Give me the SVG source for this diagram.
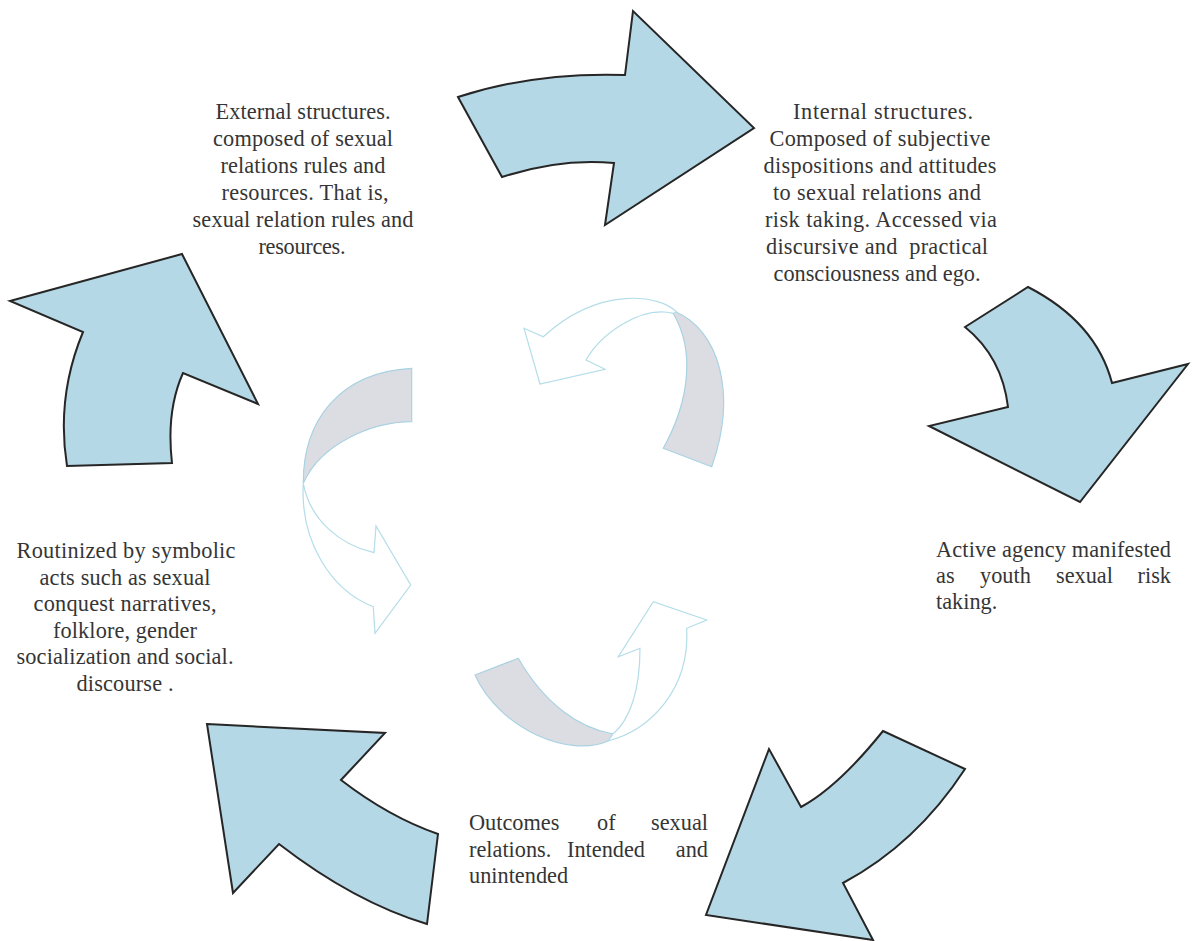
<svg xmlns="http://www.w3.org/2000/svg" width="1192" height="941" viewBox="0 0 1192 941">
<style>
.big{fill:#b5d8e6;stroke:#262626;stroke-width:2;stroke-linejoin:miter}
.band{fill:#dcdde3;stroke:#a9d2e2;stroke-width:1.2}
.ghost{fill:#ffffff;stroke:#b3dde8;stroke-width:1.2}
text{font-family:"Liberation Serif","Times New Roman",serif;font-size:22.3px;fill:#353535}
.c{text-anchor:middle}
</style>
<rect width="1192" height="941" fill="#ffffff"/>
<g id="connectors">
<path class="big" d="M458,97 Q535,72 625,75 L633,11 L754,128 L605,225 L614,163 Q560,158 502,177 Z"/>
<path class="big" d="M965,327 L1028,287 Q1096,322 1112,383 L1188,364 L1080,502 L929,426 L1008,407 Q1002,357 965,327 Z"/>
<path class="big" d="M883,731 L965,769 Q916,844 843,883 L873,940 L706,915 L769,749 L801,807 Q838,787 883,731 Z"/>
<path class="big" d="M207,724 L385,733 L341,780 Q389,817 438,834 L427,924 Q354,902 279,844 L233,893 Z"/>
<path class="big" d="M182,254 L258,404 L183,373 Q166,411 172,463 L67,466 Q56,397 83,332 L10,301 Z"/>
</g>
<g id="center-cycle">
<path class="band" d="M411.7,368.3 L411.7,421.7 C370,422 320,445 303.3,483.3 C303,420 340,372 411.7,368.3 Z"/>
<path class="ghost" d="M303.3,483.3 C300,540 330,590 373.3,606.7 L375,633.3 L410.7,585 L376,526 L374,552.7 C340,545 310,520 303.3,483.3 Z"/>
<path class="band" d="M676,312 C718,330 738,392 711.7,466.7 L663.3,448.3 C690,400 695,350 673,313 Z"/>
<path class="ghost" d="M676.7,312 C660,295 600,285 543.3,336.7 L524,328.3 L540,384 L605,369.3 L586,360 C600,335 640,305 673.3,313.3 Z"/>
<path class="band" d="M518.3,658.3 C545,705 580,728 613,734 L608,741 C570,758 500,730 475,675 Z"/>
<path class="ghost" d="M608,741 C650,730 690,690 686.7,628.3 L706.7,620 L653.3,601.7 L618.3,656.7 L640,648.3 C640,690 630,720 613,734 Z"/>
</g>
<g id="external-structures">
<text class="c" x="303" y="119" textLength="175" lengthAdjust="spacing">External structures.</text>
<text class="c" x="303" y="146" textLength="180" lengthAdjust="spacing">composed of sexual</text>
<text class="c" x="303" y="173" textLength="165" lengthAdjust="spacing">relations rules and</text>
<text class="c" x="305" y="200" textLength="167" lengthAdjust="spacing">resources. That is,</text>
<text class="c" x="303" y="227" textLength="221" lengthAdjust="spacing">sexual relation rules and</text>
<text class="c" x="302" y="254" textLength="87" lengthAdjust="spacing">resources.</text>
</g>
<g id="internal-structures">
<text class="c" x="883" y="119" textLength="180" lengthAdjust="spacing">Internal structures.</text>
<text class="c" x="880" y="146" textLength="221" lengthAdjust="spacing">Composed of subjective</text>
<text class="c" x="880" y="173" textLength="233" lengthAdjust="spacing">dispositions and attitudes</text>
<text class="c" x="877" y="200" textLength="208" lengthAdjust="spacing">to sexual relations and</text>
<text class="c" x="881" y="227" textLength="232" lengthAdjust="spacing">risk taking. Accessed via</text>
<text class="c" x="877" y="254" textLength="222" lengthAdjust="spacing" xml:space="preserve">discursive and  practical</text>
<text class="c" x="877" y="281" textLength="207" lengthAdjust="spacing">consciousness and ego.</text>
</g>
<g id="active-agency">
<text x="936" y="557" textLength="235" lengthAdjust="spacing">Active agency manifested</text>
<text x="936" y="583">as</text>
<text x="980" y="583">youth</text>
<text x="1056" y="583">sexual</text>
<text x="1171" y="583" text-anchor="end">risk</text>
<text x="936" y="609">taking.</text>
</g>
<g id="outcomes">
<text x="469" y="830">Outcomes</text>
<text x="597" y="830">of</text>
<text x="708" y="830" text-anchor="end">sexual</text>
<text x="469" y="857">relations.</text>
<text x="567" y="857">Intended</text>
<text x="708" y="857" text-anchor="end">and</text>
<text x="469" y="883">unintended</text>
</g>
<g id="routinized">
<text class="c" x="126" y="558" textLength="219" lengthAdjust="spacing">Routinized by symbolic</text>
<text class="c" x="125" y="585" textLength="171" lengthAdjust="spacing">acts such as sexual</text>
<text class="c" x="125" y="611" textLength="183" lengthAdjust="spacing">conquest narratives,</text>
<text class="c" x="125" y="638" textLength="144" lengthAdjust="spacing">folklore, gender</text>
<text class="c" x="125" y="664" textLength="217" lengthAdjust="spacing">socialization and social.</text>
<text class="c" x="125" y="691" textLength="97" lengthAdjust="spacing">discourse .</text>
</g>
</svg>
